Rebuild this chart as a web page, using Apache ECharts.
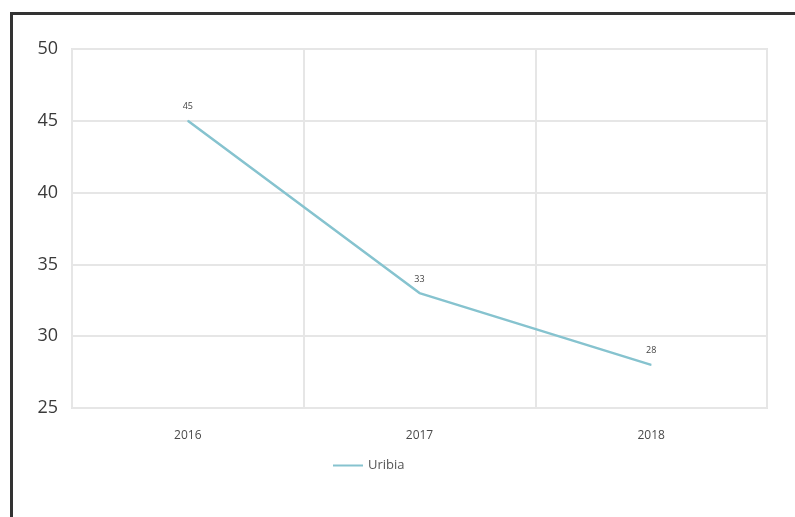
<!DOCTYPE html>
<html>
<head>
<meta charset="utf-8">
<script src="https://cdn.jsdelivr.net/npm/echarts@6/dist/echarts.min.js"></script>
<style>
  html, body { margin: 0; padding: 0; background: #fff; }
  #frame {
    position: absolute; left: 10px; top: 12px; width: 790px; height: 510px;
    border-top: 3px solid #333; border-left: 3px solid #333;
  }
  #chart { position: absolute; left: 0; top: 0; width: 795px; height: 517px; }
</style>
</head>
<body>
<div id="frame"></div>
<div id="chart"></div>
<script>
// data
var years = ['2016', '2017', '2018'];
var uribia = [45, 33, 28];
var seriesName = 'Uribia';

var myChart = echarts.init(document.getElementById('chart'));
var option = {
    grid: {
        show: true,
        left: 72,
        right: 28,
        top: 49,
        bottom: 109,
        borderColor: '#e4e4e4',
        borderWidth: 2
    },
    legend: {
        bottom: 40,
        left: 328,
        icon: 'path://M0,0 L30,0 L30,2 L0,2 Z',
        itemWidth: 30,
        itemHeight: 2,
        itemGap: 6,
        textStyle: { color: '#555', fontSize: 13, fontFamily: 'Open Sans' },
        data: [seriesName]
    },
    xAxis: {
        type: 'category',
        data: years,
        boundaryGap: true,
        axisTick: { show: false },
        axisLine: { show: false },
        axisLabel: { color: '#4a4a4a', fontSize: 12, margin: 22, fontFamily: 'Open Sans' },
        splitLine: { show: true, lineStyle: { color: '#e6e6e6', width: 2 } }
    },
    yAxis: {
        type: 'value',
        min: 25,
        max: 50,
        interval: 5,
        axisTick: { show: false },
        axisLine: { show: false },
        axisLabel: { color: '#3a3a3a', fontSize: 18, margin: 14, fontFamily: 'Open Sans' },
        splitLine: { lineStyle: { color: '#e6e6e6', width: 2 } }
    },
    series: [{
        name: seriesName,
        type: 'line',
        data: uribia,
        symbol: 'circle',
        symbolSize: 1,
        showSymbol: true,
        lineStyle: { color: '#86c3cf', width: 2.5 },
        itemStyle: { color: '#86c3cf' },
        label: {
            show: true,
            position: 'top',
            distance: 9,
            color: '#444',
            fontSize: 9,
            fontFamily: 'Open Sans'
        }
    }]
};
myChart.setOption(option);
</script>
</body>
</html>
